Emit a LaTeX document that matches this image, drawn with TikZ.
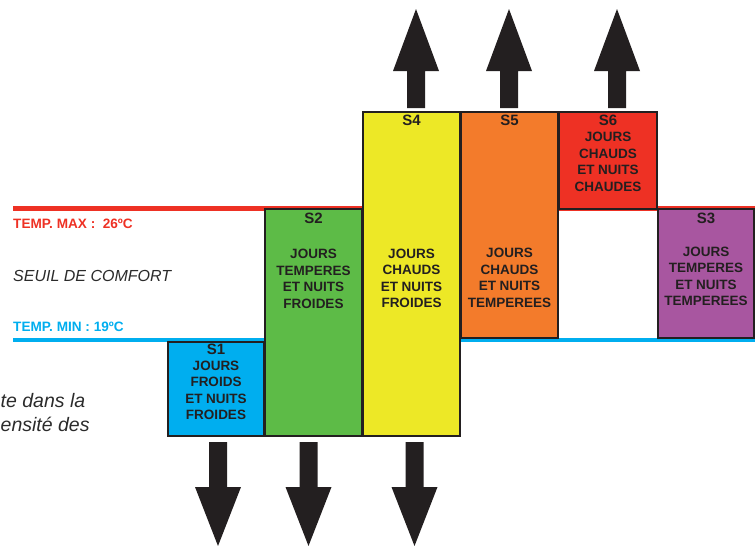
\documentclass[tikz,border=0pt]{standalone}
\usepackage{fontspec}
\setmainfont{Liberation Sans}
\definecolor{ink}{HTML}{231F20}
\definecolor{cred}{HTML}{EE3124}
\definecolor{cblue}{HTML}{00AEEF}
\definecolor{cgreen}{HTML}{5DBB47}
\definecolor{cyellow}{HTML}{EDE826}
\definecolor{corange}{HTML}{F37B2B}
\definecolor{cpurple}{HTML}{A856A0}
\definecolor{greytxt}{HTML}{2B2B2B}
\begin{document}
\begin{tikzpicture}[x=1pt,y=-1pt,
  box/.style={draw=ink, line width=2.5pt, inner sep=0pt, rectangle},
  slabel/.style={font=\fontsize{15}{18}\selectfont\bfseries, text=ink, inner sep=0pt},
  body/.style={font=\fontsize{13.5}{16.5}\selectfont\bfseries, text=ink, align=center, inner sep=0pt},
  lefttag/.style={font=\fontsize{13.6}{15}\selectfont\bfseries, inner sep=0pt, anchor=west},
  italtxt/.style={font=\fontsize{19.5}{23}\selectfont\itshape, text=greytxt, inner sep=0pt, anchor=base west},
  uparrow/.pic={\fill[ink] (0,0) -- (23,62) -- (9,62) -- (9,99) -- (-9,99) -- (-9,62) -- (-23,62) -- cycle;},
  downarrow/.pic={\fill[ink] (0,0) -- (23,-59) -- (9,-59) -- (9,-104) -- (-9,-104) -- (-9,-59) -- (-23,-59) -- cycle;}
]
\useasboundingbox (0,0) rectangle (755,546);

% threshold lines
\coordinate (redL) at (13,208.5);
\coordinate (redR) at (757,208.5);
\coordinate (blueL) at (13,340);
\coordinate (blueR) at (757,340);
\draw[cred, line width=4.5pt] (redL) -- (redR);
\draw[cblue, line width=3.5pt] (blueL) -- (blueR);

% boxes
\node[box, fill=cblue,   minimum width=96pt, minimum height=94pt]  (s1) at (216,389) {};
\node[box, fill=cgreen,  minimum width=97pt, minimum height=227pt] (s2) at (313.5,322.5) {};
\node[box, fill=cyellow, minimum width=97pt, minimum height=324pt] (s4) at (411.5,274) {};
\node[box, fill=corange, minimum width=97pt, minimum height=226pt] (s5) at (509.5,225) {};
\node[box, fill=cred,    minimum width=98pt, minimum height=97pt]  (s6) at (608,160.5) {};
\node[box, fill=cpurple, minimum width=96pt, minimum height=129pt] (s3) at (706,273.5) {};

% season labels
\node[slabel] (l1) at (216,349) {S1};
\node[slabel] (l2) at (313.5,218) {S2};
\node[slabel] (l4) at (411.5,120) {S4};
\node[slabel] (l5) at (509.5,120) {S5};
\node[slabel] (l6) at (608,120) {S6};
\node[slabel] (l3) at (706,218) {S3};

% descriptions
\node[body] (t1) at (216,390.5) {JOURS\\FROIDS\\ET NUITS\\FROIDES};
\node[body] (t2) at (313.5,279) {JOURS\\TEMPERES\\ET NUITS\\FROIDES};
\node[body] (t4) at (411.5,278.5) {JOURS\\CHAUDS\\ET NUITS\\FROIDES};
\node[body] (t5) at (509.5,278) {JOURS\\CHAUDS\\ET NUITS\\TEMPEREES};
\node[body] (t6) at (608,162) {JOURS\\CHAUDS\\ET NUITS\\CHAUDES};
\node[body] (t3) at (706,276.5) {JOURS\\TEMPERES\\ET NUITS\\TEMPEREES};

% left side texts
\node[lefttag, text=cred] (tmax) at (13,224) {TEMP. MAX :\ \ 26ºC};
\node[font=\fontsize{16}{18}\selectfont\itshape, text=greytxt, inner sep=0pt, anchor=west] (seuil) at (13,276) {SEUIL DE COMFORT};
\node[lefttag, text=cblue] (tmin) at (13,327) {TEMP. MIN : 19ºC};
\node[italtxt] (it1) at (0.5,407.5) {te dans la};
\node[italtxt] (it2) at (0.5,431.5) {ensité des};

% arrows
\pic at (416,9) {uparrow};
\pic at (509,9) {uparrow};
\pic at (617,9) {uparrow};
\pic at (218,546) {downarrow};
\pic at (308.5,546) {downarrow};
\pic at (414.5,546) {downarrow};
\end{tikzpicture}
\end{document}
